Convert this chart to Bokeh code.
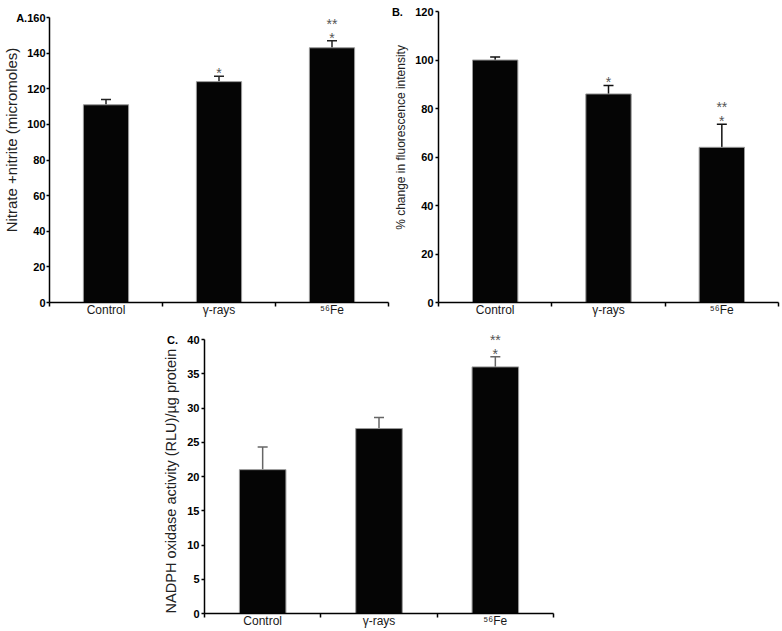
from bokeh.plotting import figure
from bokeh.models import ColumnDataSource, Whisker, TeeHead, FixedTicker, Range1d, Spacer
from bokeh.layouts import column, row
from bokeh.core.properties import value
from bokeh.embed import file_html
from bokeh.resources import INLINE

# ---- data ----
categories = ["Control", "γ-rays", "⁵⁶Fe"]
x_centers = [0.5, 1.5, 2.5]
x_bounds = [0, 1, 2, 3]

a_values = [111, 124, 143]
a_errors = [3, 3, 4]
a_star1 = ["", "*", "*"]
a_star2 = ["", "", "**"]
a_ticks = [0, 20, 40, 60, 80, 100, 120, 140, 160]

b_values = [100, 86, 64]
b_errors = [1.2, 3.5, 9.5]
b_star1 = ["", "*", "*"]
b_star2 = ["", "", "**"]
b_ticks = [0, 20, 40, 60, 80, 100, 120]

c_values = [21, 27, 36]
c_errors = [3.3, 1.6, 1.5]
c_star1 = ["", "", "*"]
c_star2 = ["", "", "**"]
c_ticks = [0, 5, 10, 15, 20, 25, 30, 35, 40]

FONT = "Liberation Sans"
NB = "\u00a0"


def make_panel(letter, gap, values, errors, star1, star2, ticks, ylabel, title_size,
               width, height, b_left, b_right, b_top, b_bottom, pad_px, err_color,
               tick_standoff, label_standoff):
    frame_h = height - b_top - b_bottom
    top_tick = ticks[-1]
    y_end = top_tick * frame_h / (frame_h - pad_px)
    src = ColumnDataSource(dict(
        x=x_centers, top=values,
        lower=values, upper=[v + e for v, e in zip(values, errors)],
        s1=star1, s2=star2,
    ))
    p = figure(width=width, height=height, output_backend="svg", toolbar_location=None,
               title=None,
               x_range=Range1d(0, 3), y_range=Range1d(0, y_end),
               min_border_left=b_left, min_border_right=b_right,
               min_border_top=b_top, min_border_bottom=b_bottom)
    p.outline_line_color = None
    p.grid.visible = False
    p.background_fill_color = "white"
    p.border_fill_color = "white"

    p.vbar(x="x", top="top", width=0.4, bottom=0, source=src,
           fill_color="#050505", line_color="#9a9a9a", line_width=1)

    w = Whisker(base="x", lower="lower", upper="upper", source=src,
                line_color=err_color, line_width=1.5, lower_head=None,
                upper_head=TeeHead(size=10, line_color=err_color, line_width=1.5))
    p.add_layout(w)

    p.text(x="x", y="upper", text="s1", source=src, y_offset=-3,
           text_align="center", text_baseline="alphabetic",
           text_font=value(FONT), text_font_size="14px", text_color="#555555")
    p.text(x="x", y="upper", text="s2", source=src, y_offset=-17,
           text_align="center", text_baseline="alphabetic",
           text_font=value(FONT), text_font_size="14px", text_color="#555555")

    # y axis
    ya = p.yaxis[0]
    ya.ticker = FixedTicker(ticks=ticks)
    ya.bounds = (0, top_tick)
    ya.major_label_overrides = {top_tick: letter + gap + str(top_tick)}
    ya.axis_line_color = "black"
    ya.axis_line_width = 1.5
    ya.major_tick_line_color = "black"
    ya.major_tick_line_width = 1.5
    ya.major_tick_out = 3
    ya.major_tick_in = 0
    ya.minor_tick_line_color = None
    ya.major_label_standoff = tick_standoff
    ya.major_label_text_font = FONT
    ya.major_label_text_font_style = "bold"
    ya.major_label_text_font_size = "11px"
    ya.major_label_text_color = "black"
    ya.axis_label = ylabel
    ya.axis_label_text_font = FONT
    ya.axis_label_text_font_style = "normal"
    ya.axis_label_text_font_size = title_size
    ya.axis_label_text_color = "#222222"
    ya.axis_label_standoff = label_standoff

    # x axis
    xa = p.xaxis[0]
    xa.ticker = FixedTicker(ticks=x_centers, minor_ticks=x_bounds)
    xa.major_label_overrides = {xc: c for xc, c in zip(x_centers, categories)}
    xa.axis_line_color = "black"
    xa.axis_line_width = 1.5
    xa.major_tick_line_color = None
    xa.major_tick_out = 0
    xa.major_tick_in = 0
    xa.minor_tick_line_color = "black"
    xa.minor_tick_line_width = 1.5
    xa.minor_tick_out = 4
    xa.minor_tick_in = 0
    xa.major_label_standoff = -4
    xa.major_label_text_font = FONT
    xa.major_label_text_font_size = "12px"
    xa.major_label_text_color = "#1a1a1a"
    return p


pA = make_panel("A.", "", a_values, a_errors, a_star1, a_star2, a_ticks,
                NB * 6 + "Nitrate +nitrite (micromoles)", "15px",
                390, 320, 48, 2, 2, 18, 15, "#222222", 1, -7)
pB = make_panel("B.", NB * 4, b_values, b_errors, b_star1, b_star2, b_ticks,
                NB * 9 + "% change in fluorescence intensity", "12px",
                390, 320, 48, 2, 2, 18, 9, "#111111", 2, -19)
pC = make_panel("C.", NB * 3, c_values, c_errors, c_star1, c_star2, c_ticks,
                "NADPH oxidase activity (RLU)/µg protein" + NB * 6, "14.5px",
                403, 311, 40, 10, 4, 18, 15, "#666666", 2, -15)

layout = column(row(pA, pB), row(Spacer(width=160, height=311), pC))

open("out.html", "w").write(file_html(layout, INLINE))
